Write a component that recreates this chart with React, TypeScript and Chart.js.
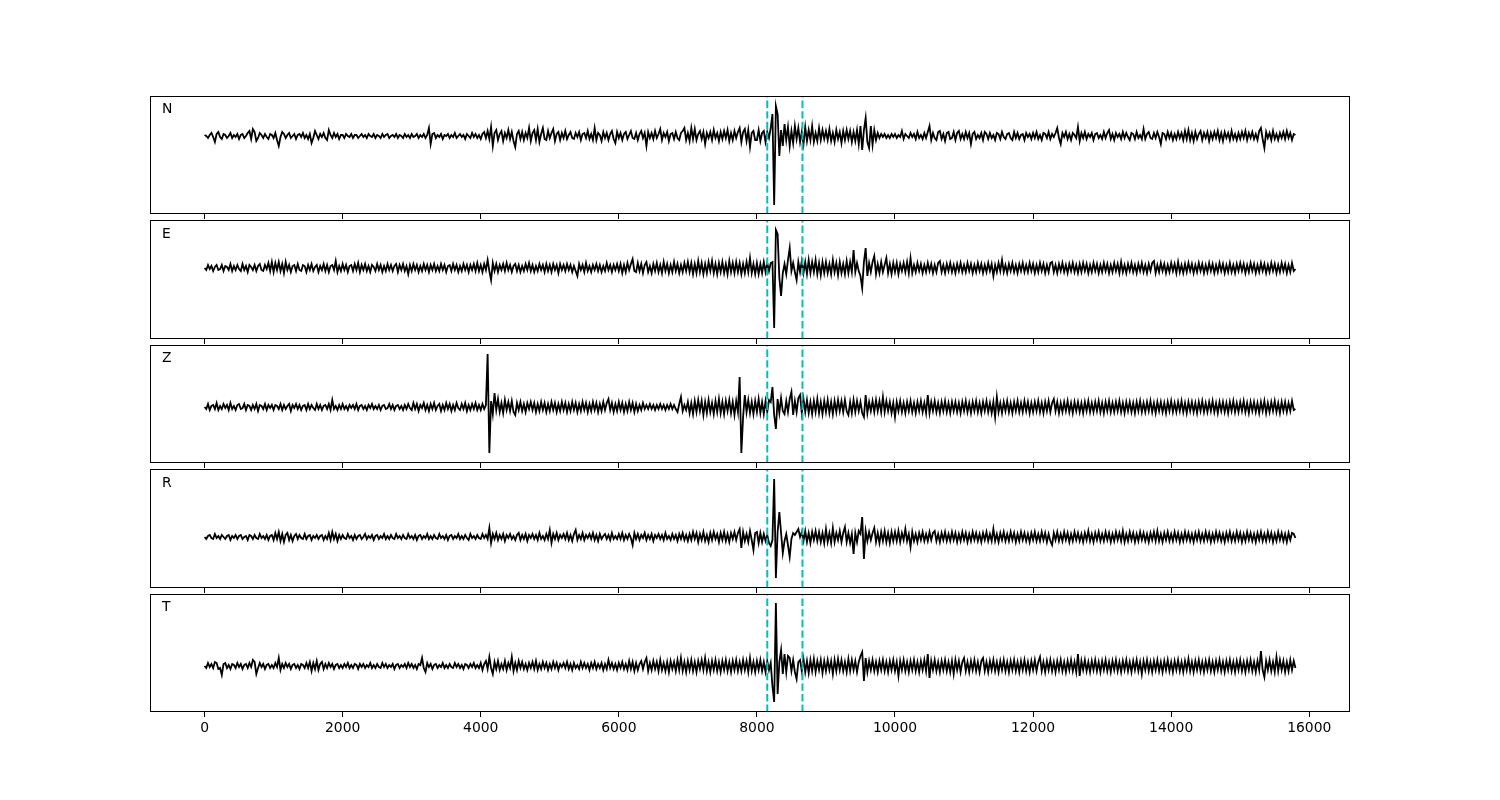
import React, { useEffect, useRef } from "react";
import { Chart, registerables } from "chart.js";

Chart.register(...registerables);

// ---------------- data ----------------
const DT = 25; // sample spacing along the x axis
const CHANNELS = ["N", "E", "Z", "R", "T"];
const PICKS = [8150, 8660];
const X_TICKS = [0, 2000, 4000, 6000, 8000, 10000, 12000, 14000, 16000];
const X_MIN = -790;
const X_MAX = 16590;
const Y_MIN = [-78, -71, -56, -51, -46];
const Y_MAX = [40, 48, 62, 68, 72];

const N_TRACE = [
  1, 0, -2, 1, 3, -1, -6, 2, 4, -1, -3, 2, 1, -2, 0, 3, -2, 1, -1, 2,
  -3, 1, 2, -2, 0, 3, 5, -3, 7, 4, -5, -2, 3, 1, -2, 2, -1, -3, 2, 1,
  -2, 3, -4, -10, -1, 4, 2, -2, 1, 3, -2, 0, 2, -3, 1, 2, -1, 3, -2, 1,
  -3, 2, -7, -2, 5, 1, -3, 2, -1, 3, -2, -4, 6, 1, -2, 3, -1, 2, -3, 1,
  1, -2, 2, 0, -1, 2, -2, 1, 1, -2, 0, 2, -1, 1, -2, 2, 0, -1, 2, -2,
  1, 0, -2, 2, -1, 1, 2, -2, 0, 1, -1, 2, -2, 1, 0, -2, 2, -1, 1, -2,
  2, -1, 0, 2, -2, 1, -1, 2, -2, 1, 8, -8, 2, 3, -2, 1, -1, 2, -3, 1,
  0, 2, -2, 1, -1, 3, -2, 0, 2, -1, 1, -3, 2, 0, -2, 3, -1, 2, -2, 1,
  -3, 2, 4, -2, 5, -3, 9, -10, 3, 6, -4, 2, 5, -5, 3, -2, 6, -3, 4, -5,
  -11, 2, 5, -3, 4, -4, 3, -2, 8, -5, 3, 6, -4, 7, -6, 2, 8, -3, -4, 5,
  -2, 3, 7, -5, 2, 4, -4, 3, -2, 5, -3, 1, 4, -2, -3, 3, -1, 4, -4, 2,
  3, -2, 5, -3, 2, -4, 8, -4, 3, 1, -5, 4, -2, 3, -4, 2, 5, -3, -7, 4,
  -2, 3, -4, 2, 4, -3, 1, 5, -2, -3, 3, -4, 2, 5, -2, 3, -10, 4, -2, 3,
  -3, 5, -2, 2, 7, -4, 3, -1, 4, -5, 2, 3, -3, 4, -2, -4, 3, 5, 8, -4,
  3, -5, 8, -3, 7, -4, 2, 5, -3, 4, -8, 3, -2, 4, -4, 6, -2, 3, -5, 4,
  -3, 5, -2, 6, -5, 3, -4, 5, -2, 4, 8, -6, 4, 7, -5, 6, -11, 3, 5, -4,
  -4, 6, -5, 3, 5, -6, 4, -2, 8, 22, -69, 30, 22, -20, 6, -10, 12, -4, 9, -10,
  5, -7, 10, -3, 8, -6, 4, -8, 9, -5, 6, -4, 10, -6, 3, -5, 8, -4, 6, -3,
  5, -4, 7, -5, 3, -6, 6, -3, 4, -7, 5, -4, 6, -3, 5, -6, 4, -5, 6, -8,
  10, -14, 6, 18, -6, -12, 10, -9, 6, -4, 3, -2, 2, -1, 2, -2, 1, -2, 2, -1,
  2, -2, 1, -1, 5, -3, 2, 0, -2, 3, -1, 2, -3, 4, -2, 1, -3, 3, -2, 4,
  10, -4, 3, -2, -4, 4, 5, -3, 2, -5, 3, 4, -3, -2, 4, -4, 3, 5, -3, 2,
  -3, 4, -2, 3, -8, 2, 4, -3, 1, -2, 3, -4, 4, 2, -3, 3, -2, 1, -4, 3,
  2, -3, 4, -1, -3, 2, 3, -2, -4, 4, -2, 3, -3, 1, 2, -4, 3, -1, 2, -3,
  3, -2, 4, -3, 1, -4, 3, 2, -2, 4, -3, 2, -1, 3, 8, -2, -8, 3, -1, 4,
  -3, 2, -4, 3, 1, -2, 9, -5, 3, -2, 4, -3, 2, -1, 3, -4, 2, 3, -2, 1,
  -3, 4, -2, 3, 6, -3, 2, -4, 3, -1, 2, -3, 4, -2, 3, -1, -4, 3, 2, -3,
  4, -2, 1, -3, 7, -3, 2, 4, -2, -3, 3, -2, 4, -1, -8, 3, 2, -3, 4, -2,
  3, -4, 2, -3, 4, -2, 3, -4, 5, -3, 6, -4, 3, -5, 4, -3, 2, 5, -4, 3,
  -2, 4, -5, 3, -3, 4, -2, 5, -4, 3, -5, 4, -2, 3, -4, 5, -3, 2, -4, 3,
  -3, 4, -2, 5, -4, 3, -2, 4, -3, 2, -4, 5, 8, -3, -12, 4, -2, 3, -4, 5,
  -3, 2, -4, 3, -2, 4, -3, 5, -2, 3, -4, 2, 1,
];

const E_TRACE = [
  0, -2, 3, -1, 2, -3, 1, 3, -2, -1, 3, -3, 2, 1, -2, 4, -3, 2, -2, 3,
  -1, -3, 4, -2, 2, -4, 3, 1, -2, 3, -3, 2, 4, -2, -3, 3, -1, 5, -3, 6,
  -4, 5, -2, 6, -3, 4, -5, 6, -2, 3, -4, 2, 3, -3, 4, -2, -3, 3, 2, -4,
  3, -2, 4, -3, 1, 3, -4, 2, -2, 4, -3, 3, -4, 2, 3, -2, 7, -4, 2, -3,
  4, -2, 3, -4, 2, 3, -3, 4, -2, 5, -4, 3, -2, 4, -3, 2, -4, 3, 1, -3,
  4, -2, 3, -4, 2, -3, 4, -2, 3, -3, 2, 4, -4, 3, -2, 4, -3, 2, -6, 3,
  -3, 4, -2, 3, -4, 2, -3, 4, -2, 3, -4, 3, -2, 4, -3, 2, -3, 4, -2, 3,
  -4, 2, 3, -3, 4, -2, 3, -4, 2, -3, 4, -2, 3, -4, 3, -2, 4, -3, 5, -3,
  3, -4, 4, -2, 8, -3, -12, 5, -3, 4, -4, 3, -2, 4, -3, 5, -2, 3, -4, 2,
  4, -3, 3, -4, 2, -3, 4, -2, 5, -3, 3, -4, 2, -3, 4, -2, 3, -4, 4, -3,
  3, -4, 4, -2, 3, -5, 4, -2, 3, -3, 4, -2, 3, -4, 2, -3, -8, 4, -2, 3,
  -4, 5, -3, 2, -4, 3, -2, 4, -3, 3, -4, 2, -3, 5, -2, 3, -4, 3, -2, 4,
  -3, 4, -5, 3, -4, 5, -2, 4, 9, -3, -4, 5, -3, 4, -5, 3, 6, -4, 2, -5,
  4, -3, 5, -4, 3, -5, 6, -3, 4, -5, 3, -4, 6, -3, 4, -5, 3, -4, 5, -3,
  6, -4, 5, -6, 4, -5, 7, -4, 5, -6, 4, -5, 6, -3, 7, -5, 4, -6, 5, -4,
  6, -5, 4, -6, 7, -4, 5, -5, 6, -4, 5, -6, 4, -5, 6, -4, 10, -5, 4, -6,
  5, -6, 4, -5, 6, -4, 5, -3, 5, 6, -60, 38, 34, -10, -28, -5, 4, -6, 8, 20,
  -3, 5, -4, -12, 6, -4, 7, -5, 6, -6, 8, -5, 6, -4, 8, -6, 5, -7, 6, -5,
  6, -5, 4, -6, 8, -4, 5, -7, 6, -5, 4, -6, 7, -5, 6, -4, 18, -4, 5, -3,
  -8, -20, 6, 20, -8, 5, -4, 6, 12, -6, 4, -5, 6, -4, 3, 10, -5, 4, -6, 5,
  -4, 5, -6, 4, -3, 5, -4, 6, -5, 10, -5, 3, -4, 5, -3, 4, -5, 3, -4, 5,
  -3, 4, -5, 3, -4, 5, 7, -4, 3, -5, 4, -3, 5, -4, 3, -5, 4, -3, 5, -4,
  3, -4, 5, -3, 4, -5, 3, -4, 5, -3, 4, -5, 3, -4, 5, -3, 4, -8, 3, -4,
  5, -3, 8, -4, 3, -5, 4, -3, 5, -4, 3, -5, 4, -3, 5, -4, 3, -4, 5, -3,
  4, -5, 3, -4, 5, -3, 4, -5, 3, -4, 5, 6, -4, 3, -5, 4, -3, 5, -4, 3,
  -5, 4, -3, 5, -4, 3, -5, 4, -4, 5, -3, 4, -5, 3, -4, 5, -3, 4, -5, 3,
  -4, 5, -3, 4, -5, 3, -4, 5, -3, 4, -5, 6, -4, 3, -5, 4, -3, 5, -4, 3,
  -5, 4, -3, 5, -4, 3, -5, 4, -3, 5, 7, -5, 3, -4, 5, -3, 4, -5, 3, -4,
  5, -3, 4, -5, 6, -4, 3, -5, 4, -4, 5, -3, 4, -5, 3, -4, 5, -3, 4, -5,
  3, -4, 5, -3, 4, -5, 3, -4, 5, -3, 4, -5, 3, -4, 5, -4, 3, -5, 4, -3,
  5, -3, 4, -5, 3, -4, 5, -3, 4, -5, 3, -4, 5, -3, 4, -5, 3, -4, 5, -3,
  4, -5, 3, -4, 5, -3, 4, -5, 3, -4, 5, -3, -1,
];

const Z_TRACE = [
  0, -2, 3, -3, 1, 2, -2, 4, -3, 1, -2, 3, -1, 2, -3, 4, -2, 1, -3, 2,
  3, -2, -1, 3, -3, 2, 1, -3, 2, -2, 3, -4, 2, 1, -2, 3, -3, 2, -1, 2,
  -3, 2, 1, -2, 3, -3, 2, -2, 1, 3, -4, 2, -1, 3, -2, 2, -3, 1, 2, -3,
  3, -2, 2, -1, -3, 3, -2, 2, -3, 1, 2, -2, 3, -3, 7, -2, 1, -3, 2, -2,
  3, -2, 1, -3, 2, -1, 2, -2, 3, -3, 1, 2, -2, 1, -3, 2, -1, 3, -2, 1,
  -2, 2, -3, 1, 2, -2, -1, 3, -2, 2, -3, 1, 2, -2, 1, -3, 2, -2, 3, -1,
  -3, 4, -2, 3, -4, 2, -1, 4, -3, 2, -4, 3, -2, 4, -3, 1, 3, -4, 2, -3,
  4, -2, 3, -4, 2, -3, 4, -1, -3, 3, -2, 4, -4, 2, -3, 3, -2, 4, -3, 2,
  -3, 3, -2, 2, 53, -46, 6, -7, 14, -3, 8, -5, 4, -6, 7, -3, 5, -4, 6, -5,
  -8, 4, -3, 5, -4, 3, -5, 4, -2, 5, -3, 4, -5, 3, -4, 5, -3, 4, -5, 3,
  -4, 5, -3, 4, -5, 3, -4, 5, -3, 4, -5, 3, -4, 5, -3, 4, -5, 3, -4, 5,
  -3, 4, -5, 3, -4, 5, -3, 4, -5, 3, -4, 5, -3, 4, 8, -3, 4, -5, 3, -4,
  5, -3, 4, -5, 3, -4, 5, -3, 4, -5, 3, -4, 2, -3, 4, -2, 2, -2, 3, -2,
  2, -3, 2, -2, 3, -2, 2, -3, 2, -2, 3, -2, 2, -2, -5, 3, 10, -4, 2, -3,
  5, -6, 4, -7, 6, -5, 7, -4, 6, -8, 5, -6, 7, -5, 4, -7, 6, -5, 8, -6,
  5, -7, 6, -4, 7, -6, 5, -8, 6, -5, 30, -46, -10, 12, -5, 7, -6, 5, -7, 6,
  -5, 8, -6, 5, -7, 6, -5, 7, 5, 20, -8, -22, 8, -6, 9, -4, -7, 6, -5, 8,
  15, -8, 6, -5, 9, 12, -6, 8, -5, 7, -6, 5, -7, 6, -5, 8, -6, 5, -7, 6,
  -5, 7, -6, 5, -7, 6, -5, 7, -4, 6, -5, 7, -4, -8, 5, -6, 7, -5, 6, -4,
  5, -6, -10, 12, -6, 5, -4, 6, -5, 7, -4, 6, -5, 10, -5, 6, -4, 5, -6, 4,
  -10, 5, -4, 6, -5, 4, -6, 5, -4, 6, -5, 4, -6, 5, -4, 6, -5, 4, -6, 12,
  -6, 5, -4, 6, -5, 4, -6, 5, -4, 6, -5, 4, -6, 5, -4, 5, -5, 4, -6, 5,
  -4, 6, -5, 4, -6, 5, -4, 6, -5, 4, -6, 5, -4, 6, -5, 4, -6, 5, -10, 10,
  -5, 4, -6, 5, -4, 6, -5, 4, -6, 5, -4, 6, -5, 4, -5, 6, -4, 5, -6, 4,
  -5, 5, -4, 6, -5, 4, -6, 5, -4, 6, -5, 4, 8, -4, 5, -6, 4, -5, 5, -4,
  6, -5, 4, -6, 5, -4, 5, -5, 4, -6, 5, -4, 6, -5, 4, -5, 5, -4, 6, -5,
  4, -6, 5, -4, 6, -5, 4, -5, 5, -4, 6, -5, 4, -6, 5, -4, 5, -5, 4, -6,
  5, -4, 6, -5, 4, -5, 5, -4, 6, -5, 4, -6, 5, -4, 5, -5, 4, -6, 5, -4,
  6, -5, 4, -5, 5, -4, 6, -5, 4, -6, 5, -4, 5, -5, 4, -6, 5, -4, 6, -5,
  4, -5, 5, -4, 6, -5, 4, -6, 5, -4, 5, -5, 4, -6, 5, -4, 6, -5, 4, -5,
  5, -4, 6, -5, 4, -6, 5, -4, 5, -5, 4, -6, 5, -4, 6, -6, 4, -5, 5, -4,
  6, -5, 4, -6, 5, -4, 5, -5, 4, -4, 6, -3, -2,
];

const R_TRACE = [
  0, -2, 1, 2, -1, -2, 3, -1, 1, -2, 2, 0, -2, 1, 2, -3, 1, -1, 2, -2,
  1, 2, -2, 0, 1, -3, 2, 1, -2, 2, -1, -2, 3, -1, 1, -2, 2, -3, 1, 2,
  -3, 4, -2, 5, -4, 3, -5, 2, 4, -3, 2, -4, 1, 3, -2, 2, -1, -2, 3, -2,
  1, 2, -3, 1, -1, 2, -2, 1, 2, -3, 1, -2, 4, -3, 5, -2, 3, -4, 2, -2,
  2, -1, -2, 3, -1, 1, -3, 2, -2, 1, 2, -2, 0, 3, -2, 1, -1, 2, -3, 1,
  2, -2, 1, -1, 3, -2, 1, -2, 2, -1, -2, 3, -1, 1, -2, 2, -1, -2, 3, -1,
  1, -2, 2, -3, 1, 2, -2, 1, -1, 3, -2, 1, -2, 2, -1, -2, 3, -1, 1, -2,
  2, -3, 1, 2, -2, 1, -1, 3, -2, 1, -2, 2, -1, -3, 3, -1, 1, -2, 2, -1,
  -2, 3, -1, 2, -2, 9, -6, 3, -2, 4, -3, 2, -2, 3, -4, 2, -1, 3, -2, 1,
  -3, 2, 4, -3, 2, -2, 3, -4, 2, -1, 3, -2, 2, -3, 4, -2, 1, -3, 3, -2,
  7, -6, 3, -2, 4, -3, 2, -1, 3, -2, 4, -3, 2, -4, 3, 7, -3, 2, -2, 4,
  -3, 2, -1, 3, -2, 4, -3, 2, -4, 3, -2, 1, 3, -2, 2, -3, 4, -2, 1, -2,
  3, -2, 4, -3, 2, -2, 3, -1, -8, 4, -2, 3, -3, 2, -1, 4, -3, 2, -2, 3,
  -4, 2, -1, 3, -2, 2, -3, 4, -2, 1, -3, 3, -2, 2, -4, 3, -2, 4, -3, 2,
  -4, 3, -3, 5, -2, 4, -5, 3, -3, 5, -4, 2, -5, 4, -3, 5, -2, 3, -5, 4,
  -3, 5, -4, 3, -5, 4, -2, 5, -3, 4, 8, -11, 5, -4, 3, -5, 6, -3, -13, 4,
  5, -6, 4, -5, 3, -4, 2, -6, -9, -3, 58, -41, 5, 25, 4, -16, -4, 3, -8, -20,
  -2, 4, 2, 5, 8, 0, 5, -4, 6, -5, 4, -6, 5, -3, 6, -4, 5, -5, 4, -6,
  8, -5, 4, -6, 9, -5, 4, -3, 6, -5, 4, 10, -5, 4, -6, 3, -17, 4, -5, 6,
  3, 20, -22, 6, -4, 5, -3, 4, 9, -5, 4, -6, 5, -4, 6, -5, 4, -6, 5, -4,
  5, -4, 6, -5, 4, -3, 8, -4, 3, -10, 5, -4, 3, -5, 4, -3, 5, -4, 3, -4,
  5, -3, 4, 6, -4, 3, -5, 4, -3, 5, -4, 3, -4, 5, -3, 4, -5, 3, -4, 5,
  -3, 4, -5, 3, -4, 5, -3, 4, -4, 3, -5, 4, -3, 5, -4, 3, -4, 8, -4, 3,
  -5, 4, -3, 5, -4, 3, -4, 5, -3, 4, -5, 3, -4, 5, -3, 4, -4, 3, -5, 4,
  -3, 5, -4, 3, -4, 5, -3, 4, -5, 3, -4, -8, 4, -3, 5, -4, 3, -4, 5, -3,
  4, -5, 3, -4, 5, -3, 4, -4, 3, -5, 4, -3, 6, -4, 3, -5, 4, -3, 5, -4,
  3, -4, 5, -3, 4, -5, 3, -4, 5, -3, 4, -4, 6, -5, 3, -4, 5, -3, 4, -5,
  3, -4, 5, -3, 4, -4, 3, -5, 4, -3, 5, -4, 6, -4, 3, -5, 4, -3, 5, -4,
  3, -4, 5, -3, 4, -5, 3, -4, 5, -3, 4, -4, 3, -5, 4, -3, 5, -4, 3, -4,
  5, -3, 4, -5, 3, -4, 5, -3, 4, -4, 3, -5, 4, -3, 5, -4, 3, -4, 5, -3,
  4, -5, 3, -4, 5, -3, 4, -4, 3, -5, 4, -3, 5, -4, 3, -4, 5, -3, 4, -5,
  3, -4, 5, -3, 4, -4, 3, -5, 4, -3, 4, 3, -1,
];

const T_TRACE = [
  0, -2, 3, -1, 2, -2, 4, 3, -3, -2, -9, 2, 3, -2, 1, -3, 2, 1, -2, 3,
  -1, 2, -3, 1, 2, -2, 3, -1, 6, 4, -8, -2, 3, -1, 2, -3, 1, 2, -2, 1,
  -2, 3, -1, 8, -4, 2, -2, 3, -1, 2, -3, 1, 2, -2, 1, -3, 2, 1, -2, 3,
  -2, 4, -5, 3, -3, 5, -4, 2, 4, -3, 2, -2, 3, -1, 2, -3, 1, 2, -2, 1,
  -2, 2, -1, 3, -2, 1, -2, 2, 1, -3, 2, -1, 2, -2, 1, -1, 3, -2, 1, -2,
  2, -1, -2, 3, -1, 2, -2, 1, -1, 2, -3, 1, 2, -2, 1, -1, 2, -2, 3, -1,
  2, -2, 1, -3, 2, 1, 8, -2, -6, 3, -1, 2, -3, 1, 2, -2, 1, -1, 3, -2,
  1, -2, 2, -1, -2, 3, -1, 2, -2, 1, -3, 2, 1, -2, 2, -1, 3, -2, 1, -2,
  3, -4, 2, 5, -3, 9, -2, -8, 4, -3, 5, -4, 2, -3, 5, -4, 3, -2, 9, -5,
  3, -4, 5, -2, 4, -3, 2, -4, 3, -2, 4, -3, 5, -4, 2, -3, 4, -2, 3, -4,
  2, -3, 4, -2, 3, -4, 2, -1, 3, -2, 4, -3, 2, -4, 3, -2, 1, -3, 4, -2,
  3, -2, 2, -4, 3, -2, 4, -3, 2, -2, 3, -4, 2, -3, 6, -2, 3, -3, 2, -4,
  3, -2, 4, -3, 2, -4, 5, -3, 4, -5, 3, -4, 2, 5, -3, 4, 8, -5, 3, -4,
  5, -3, 4, -5, 6, -4, 3, -5, 4, -6, 5, -3, 4, -5, 6, -4, 8, -5, 4, -6,
  5, -4, 6, -5, 4, -6, 5, -3, 6, -4, 8, -5, 4, -6, 5, -4, 6, -5, 4, -6,
  5, -4, 6, -5, 4, -6, 5, -4, 6, -5, 4, -5, 6, -4, 5, -6, 8, -5, 4, -6,
  5, -4, 6, -5, 4, -6, 5, -4, 3, -20, -36, 63, -28, 4, 16, -8, 12, -6, 10, 8,
  -5, 6, -6, -13, 4, 6, -5, 7, -6, 5, -7, 6, -5, 7, -6, 5, -4, 6, -7, 5,
  -5, 6, -4, 5, -8, 6, -5, 7, -4, 6, -5, 4, -6, 7, -5, 6, -4, 5, -6, 4,
  10, 14, -15, 8, -6, 5, -4, 6, -5, 4, -6, 5, -4, 6, -5, 4, -6, 5, -4, 6,
  -5, 4, -10, 5, -4, 6, -5, 4, -6, 5, -4, 6, -5, 4, -6, 5, -4, 6, -5, 12,
  -12, 5, -4, 6, -5, 4, -6, 5, -4, 6, -5, 4, -6, 5, -8, 6, -4, 5, -6, 4,
  8, -5, 4, -6, 5, -4, 6, -5, 4, -6, 5, 8, -5, 4, -6, 5, -4, 6, -5, 4,
  -6, 5, -4, 6, -5, 4, -6, 5, -4, 6, -5, 4, -6, 5, -4, 6, -5, 4, -6, 5,
  -4, 6, -5, 4, 9, -5, 4, -6, 5, -4, 6, -5, 4, -6, 5, -4, 6, -5, 4, -6,
  5, -4, 6, -5, 4, -6, 12, -10, 5, -4, 6, -5, 4, -6, 5, -4, 6, -5, 4, -6,
  5, -4, 6, -5, 4, -6, 5, -4, 6, -5, 4, -6, 5, -4, 6, -5, 4, -6, 5, -4,
  6, -5, 4, -8, 5, -4, 6, -5, 4, -6, 5, -4, 6, -5, 4, -6, 5, -4, 6, -5,
  4, -6, 5, -4, 6, -5, 4, -6, 5, -4, 7, -5, 4, -6, 5, -4, 6, -5, 4, -6,
  5, -4, 6, -5, 4, -6, 5, -4, 6, -5, 4, -6, 5, -4, 6, -5, 4, -6, 5, -4,
  6, -5, 4, -6, 5, -4, 6, -5, 4, -6, 5, -4, 15, -4, -11, 5, -4, 6, -5, 4,
  -6, 9, -5, 6, -4, 5, -6, 4, -5, 6, -4, 5, -2,
];

const TRACES = [N_TRACE, E_TRACE, Z_TRACE, R_TRACE, T_TRACE];

// ---------------- layout ----------------
const PANEL_TOP = [96, 220, 345, 469, 594];
const PANEL_BOTTOM = [214, 339, 463, 588, 712];
const PLOT_LEFT = 150;
const PLOT_RIGHT = 1350;
const PAD_TOP = 20;
const AXIS_H = 40;
const FONT = "'DejaVu Sans', 'Liberation Sans', sans-serif";

function Panel({ idx }: { idx: number }) {
  const ref = useRef<HTMLCanvasElement | null>(null);
  const panelH = PANEL_BOTTOM[idx] - PANEL_TOP[idx];
  const canvasH = PAD_TOP + panelH + AXIS_H;
  const isLast = idx === CHANNELS.length - 1;

  useEffect(() => {
    if (!ref.current) return;
    const trace = TRACES[idx];
    const ymin = Y_MIN[idx];
    const ymax = Y_MAX[idx];
    const framePlugin = {
      id: "frameAndLabel" + idx,
      afterDraw(chart: any) {
        const { ctx, chartArea } = chart;
        const { left, top, right, bottom } = chartArea;
        ctx.save();
        ctx.strokeStyle = "#000";
        ctx.lineWidth = 1;
        ctx.strokeRect(left + 0.5, top + 0.5, right - left - 1, bottom - top - 1);
        ctx.fillStyle = "#000";
        ctx.font = `13.9px ${FONT}`;
        ctx.textBaseline = "middle";
        ctx.textAlign = "left";
        ctx.fillText(CHANNELS[idx], left + 12, top + 0.1 * (bottom - top) + 2);
        ctx.restore();
      },
    };
    const pickSets = PICKS.map((p) => ({
      label: "pick " + p,
      data: [
        { x: p, y: ymin },
        { x: p, y: ymax },
      ],
      borderColor: "#00bfbf",
      borderWidth: 2,
      borderDash: [7.4, 3.2],
      pointRadius: 0,
      fill: false,
      order: 0,
    }));
    const chart = new Chart(ref.current, {
      type: "line",
      data: {
        datasets: [
          {
            label: CHANNELS[idx],
            data: trace.map((v, i) => ({ x: i * DT, y: v })),
            borderColor: "#000",
            borderWidth: 1.8,
            pointRadius: 0,
            tension: 0,
            fill: false,
            order: 1,
          },
          ...pickSets,
        ],
      },
      options: {
        animation: false,
        responsive: false,
        devicePixelRatio: 1,
        events: [],
        layout: {
          padding: { top: PAD_TOP, left: PLOT_LEFT, right: 1500 - PLOT_RIGHT, bottom: 0 },
        },
        plugins: {
          legend: { display: false },
          tooltip: { enabled: false },
        },
        scales: {
          x: {
            type: "linear",
            min: X_MIN,
            max: X_MAX,
            afterBuildTicks: (scale: any) => {
              scale.ticks = X_TICKS.map((v) => ({ value: v }));
            },
            afterFit: (scale: any) => {
              scale.height = AXIS_H;
            },
            grid: {
              display: true,
              drawOnChartArea: false,
              drawTicks: true,
              tickLength: 5,
              tickWidth: 1,
              tickColor: "#000",
            },
            border: { display: false },
            ticks: {
              display: isLast,
              color: "#000",
              padding: 3,
              maxRotation: 0,
              autoSkip: false,
              font: { family: FONT, size: 13.9 },
              callback: (v: any) => String(v),
            },
          },
          y: {
            type: "linear",
            display: false,
            min: ymin,
            max: ymax,
          },
        },
      },
      plugins: [framePlugin],
    } as any);
    return () => chart.destroy();
  }, [idx]);

  return (
    <canvas
      ref={ref}
      width={1500}
      height={canvasH}
      style={{
        position: "absolute",
        left: 0,
        top: PANEL_TOP[idx] - PAD_TOP,
        width: 1500,
        height: canvasH,
      }}
    />
  );
}

export default function App() {
  return (
    <div
      style={{
        position: "fixed",
        left: 0,
        top: 0,
        width: 1500,
        height: 800,
        background: "#fff",
        overflow: "hidden",
      }}
    >
      {CHANNELS.map((c, i) => (
        <Panel key={c} idx={i} />
      ))}
    </div>
  );
}
